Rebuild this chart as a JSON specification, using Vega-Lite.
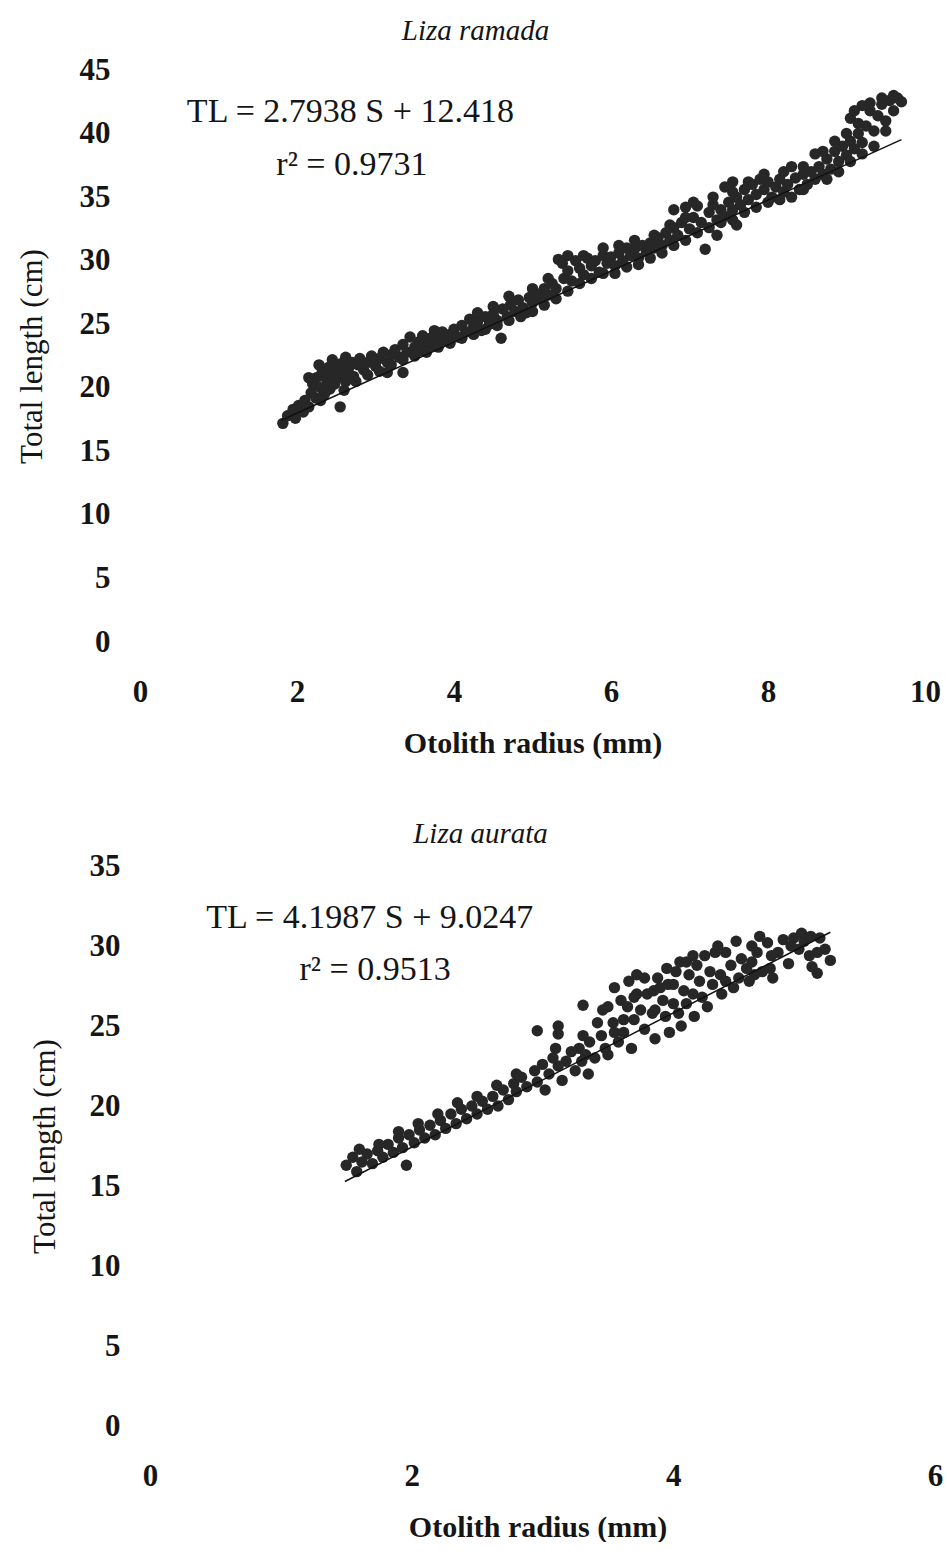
{
  "$schema": "https://vega.github.io/schema/vega-lite/v6.json",
  "background": "white",
  "padding": {"left": 16, "top": 17, "right": 0, "bottom": 0},
  "spacing": 62,
  "config": {
    "view": {"stroke": null},
    "axis": {
      "domain": false, "ticks": false, "grid": false, "labelFlush": false, "labelOverlap": false, "format": "d",
      "labelFont": "Liberation Serif", "labelFontSize": 31, "labelFontWeight": "bold", "labelColor": "#151515",
      "titleFont": "Liberation Serif", "titleFontSize": 30, "titleFontWeight": "bold", "titleColor": "#151515"
    },
    "axisY": {"titleFontWeight": "normal", "titleFontSize": 31},
    "title": {"font": "Liberation Serif", "fontSize": 29, "fontStyle": "italic", "fontWeight": "normal", "color": "#151515"}
  },
  "datasets": {
    "ramada": [
      {"S":1.82,"TL":17.2},{"S":1.88,"TL":17.8},{"S":1.95,"TL":18.3},{"S":1.98,"TL":17.6},{"S":2.02,"TL":18.6},
      {"S":2.08,"TL":18.1},{"S":2.1,"TL":19.0},{"S":2.15,"TL":18.5},{"S":2.18,"TL":19.6},{"S":2.2,"TL":20.3},
      {"S":2.24,"TL":19.2},{"S":2.25,"TL":20.8},{"S":2.3,"TL":20.0},{"S":2.32,"TL":21.2},{"S":2.35,"TL":19.5},
      {"S":2.38,"TL":20.6},{"S":2.4,"TL":21.6},{"S":2.42,"TL":19.9},{"S":2.45,"TL":21.0},{"S":2.48,"TL":20.3},
      {"S":2.5,"TL":21.5},{"S":2.52,"TL":20.8},{"S":2.55,"TL":18.5},{"S":2.56,"TL":21.9},{"S":2.6,"TL":21.2},
      {"S":2.62,"TL":20.5},{"S":2.66,"TL":21.6},{"S":2.7,"TL":22.0},{"S":2.72,"TL":20.9},{"S":2.78,"TL":21.8},
      {"S":2.8,"TL":22.3},{"S":2.85,"TL":21.4},{"S":2.9,"TL":22.0},{"S":2.95,"TL":22.5},{"S":3.0,"TL":21.7},
      {"S":3.05,"TL":22.3},{"S":3.1,"TL":22.8},{"S":3.15,"TL":22.0},{"S":3.2,"TL":22.6},{"S":3.25,"TL":23.0},
      {"S":3.3,"TL":22.4},{"S":3.35,"TL":23.4},{"S":3.4,"TL":22.8},{"S":3.44,"TL":24.0},{"S":3.5,"TL":23.2},
      {"S":3.55,"TL":23.6},{"S":3.6,"TL":22.9},{"S":3.65,"TL":23.4},{"S":3.7,"TL":23.9},{"S":3.75,"TL":23.3},
      {"S":3.8,"TL":24.0},{"S":3.85,"TL":24.4},{"S":3.9,"TL":23.7},{"S":3.95,"TL":24.2},{"S":4.0,"TL":24.6},
      {"S":4.05,"TL":24.0},{"S":4.1,"TL":24.9},{"S":4.15,"TL":24.4},{"S":4.2,"TL":25.4},{"S":4.25,"TL":24.8},
      {"S":4.3,"TL":25.2},{"S":4.35,"TL":24.5},{"S":4.4,"TL":25.6},{"S":4.45,"TL":25.0},{"S":4.5,"TL":25.8},
      {"S":4.55,"TL":25.3},{"S":4.6,"TL":23.9},{"S":4.62,"TL":26.2},{"S":4.68,"TL":25.6},{"S":4.72,"TL":26.5},
      {"S":4.78,"TL":26.0},{"S":4.82,"TL":26.9},{"S":4.88,"TL":26.3},{"S":4.92,"TL":25.9},{"S":4.96,"TL":27.1},
      {"S":5.0,"TL":26.7},{"S":5.05,"TL":27.4},{"S":5.1,"TL":27.0},{"S":5.15,"TL":27.8},{"S":5.2,"TL":27.3},
      {"S":5.25,"TL":28.2},{"S":5.3,"TL":27.8},{"S":5.33,"TL":30.1},{"S":5.38,"TL":29.8},{"S":5.4,"TL":28.6},
      {"S":5.45,"TL":29.2},{"S":5.5,"TL":28.4},{"S":5.55,"TL":30.0},{"S":5.6,"TL":29.4},{"S":5.65,"TL":28.9},
      {"S":5.7,"TL":30.2},{"S":5.75,"TL":29.6},{"S":5.8,"TL":30.0},{"S":5.85,"TL":29.1},{"S":5.9,"TL":30.4},
      {"S":5.95,"TL":29.8},{"S":6.0,"TL":30.3},{"S":6.05,"TL":29.6},{"S":6.1,"TL":30.6},{"S":6.15,"TL":30.0},
      {"S":6.2,"TL":31.0},{"S":6.25,"TL":30.4},{"S":6.3,"TL":30.9},{"S":6.35,"TL":30.2},{"S":6.4,"TL":31.2},
      {"S":6.45,"TL":30.7},{"S":6.5,"TL":31.4},{"S":6.55,"TL":31.0},{"S":6.6,"TL":31.8},{"S":6.65,"TL":31.2},
      {"S":6.7,"TL":32.2},{"S":6.75,"TL":31.6},{"S":6.8,"TL":32.6},{"S":6.85,"TL":32.0},{"S":6.9,"TL":33.0},
      {"S":6.95,"TL":34.2},{"S":7.0,"TL":32.5},{"S":7.05,"TL":33.4},{"S":7.1,"TL":34.3},{"S":7.15,"TL":33.0},
      {"S":7.2,"TL":30.9},{"S":7.25,"TL":33.8},{"S":7.3,"TL":34.4},{"S":7.35,"TL":33.2},{"S":7.4,"TL":34.0},
      {"S":7.45,"TL":33.5},{"S":7.5,"TL":34.6},{"S":7.55,"TL":34.0},{"S":7.6,"TL":35.0},{"S":7.65,"TL":34.4},
      {"S":7.7,"TL":35.6},{"S":7.75,"TL":34.8},{"S":7.8,"TL":36.0},{"S":7.85,"TL":35.2},{"S":7.9,"TL":36.4},
      {"S":7.95,"TL":35.6},{"S":8.0,"TL":36.2},{"S":8.05,"TL":35.0},{"S":8.1,"TL":35.8},{"S":8.15,"TL":36.4},
      {"S":8.2,"TL":35.4},{"S":8.25,"TL":36.0},{"S":8.3,"TL":35.0},{"S":8.35,"TL":36.5},{"S":8.4,"TL":35.6},
      {"S":8.45,"TL":36.8},{"S":8.5,"TL":36.0},{"S":8.55,"TL":37.0},{"S":8.6,"TL":36.4},{"S":8.65,"TL":37.4},
      {"S":8.7,"TL":36.8},{"S":8.75,"TL":38.0},{"S":8.8,"TL":37.2},{"S":8.85,"TL":38.6},{"S":8.9,"TL":37.8},
      {"S":8.95,"TL":39.0},{"S":9.0,"TL":38.3},{"S":9.05,"TL":39.4},{"S":9.1,"TL":38.8},{"S":9.15,"TL":40.0},
      {"S":9.2,"TL":39.3},{"S":9.25,"TL":40.6},{"S":9.3,"TL":41.8},{"S":9.35,"TL":40.2},{"S":9.4,"TL":41.4},
      {"S":9.45,"TL":42.3},{"S":9.5,"TL":41.0},{"S":9.55,"TL":42.6},{"S":9.6,"TL":41.8},{"S":9.65,"TL":42.8},
      {"S":9.7,"TL":42.5},
      {"S":2.3,"TL":19.0},{"S":2.6,"TL":19.8},{"S":2.75,"TL":20.5},{"S":2.9,"TL":21.0},{"S":3.05,"TL":21.3},
      {"S":3.2,"TL":21.8},{"S":3.35,"TL":22.2},{"S":3.5,"TL":22.5},{"S":3.65,"TL":22.8},{"S":3.8,"TL":23.2},
      {"S":3.95,"TL":23.5},{"S":4.1,"TL":23.9},{"S":4.25,"TL":24.2},{"S":4.4,"TL":24.6},{"S":4.55,"TL":24.9},
      {"S":4.7,"TL":25.3},{"S":4.85,"TL":25.6},{"S":5.0,"TL":26.0},{"S":5.15,"TL":26.5},{"S":5.3,"TL":27.0},
      {"S":5.45,"TL":27.6},{"S":5.6,"TL":28.2},{"S":5.75,"TL":28.6},{"S":5.9,"TL":29.0},{"S":6.05,"TL":29.0},
      {"S":6.2,"TL":29.5},{"S":6.35,"TL":29.7},{"S":6.5,"TL":30.2},{"S":6.65,"TL":30.6},{"S":6.8,"TL":31.2},
      {"S":6.95,"TL":31.6},{"S":7.1,"TL":32.2},{"S":7.25,"TL":32.6},{"S":7.4,"TL":33.0},{"S":7.55,"TL":33.2},
      {"S":7.7,"TL":33.8},{"S":7.85,"TL":34.2},{"S":8.0,"TL":34.6},{"S":8.15,"TL":34.8},{"S":8.45,"TL":35.6},
      {"S":8.75,"TL":36.4},{"S":8.9,"TL":37.0},{"S":9.05,"TL":37.8},{"S":9.2,"TL":38.4},{"S":9.35,"TL":39.0},
      {"S":9.5,"TL":40.2},
      {"S":2.15,"TL":20.8},{"S":2.28,"TL":21.8},{"S":2.45,"TL":22.2},{"S":2.62,"TL":22.4},{"S":3.6,"TL":24.1},
      {"S":3.75,"TL":24.5},{"S":4.3,"TL":25.9},{"S":4.5,"TL":26.4},{"S":4.7,"TL":27.2},{"S":5.0,"TL":27.8},
      {"S":5.2,"TL":28.6},{"S":5.45,"TL":30.4},{"S":5.65,"TL":30.4},{"S":5.9,"TL":31.0},{"S":6.1,"TL":31.2},
      {"S":6.3,"TL":31.6},{"S":6.55,"TL":32.0},{"S":6.75,"TL":32.8},{"S":6.95,"TL":33.4},{"S":7.05,"TL":34.6},
      {"S":7.3,"TL":35.0},{"S":7.55,"TL":35.4},{"S":7.75,"TL":36.2},{"S":7.95,"TL":36.8},{"S":8.2,"TL":37.0},
      {"S":8.45,"TL":37.4},{"S":8.7,"TL":38.6},{"S":8.85,"TL":39.4},{"S":9.0,"TL":40.0},{"S":9.15,"TL":40.8},
      {"S":9.3,"TL":42.4},{"S":9.45,"TL":42.8},{"S":9.6,"TL":43.0},
      {"S":3.15,"TL":21.2},{"S":3.35,"TL":21.2},{"S":7.35,"TL":32.0},{"S":7.6,"TL":32.8},{"S":7.55,"TL":36.2},
      {"S":7.45,"TL":35.8},{"S":9.05,"TL":41.2},{"S":9.1,"TL":41.8},{"S":9.2,"TL":42.2},{"S":8.6,"TL":38.4},
      {"S":8.3,"TL":37.4},{"S":6.8,"TL":34.0}
    ],
    "ramada_fit": [{"S":1.8,"TL":17.447},{"S":9.7,"TL":39.518}],
    "ramada_eq": [
      {"S":2.68,"TL":41.7,"label":"TL = 2.7938 S + 12.418"},
      {"S":2.7,"TL":37.5,"label":"r² = 0.9731"}
    ],
    "aurata": [
      {"S":1.5,"TL":16.3},{"S":1.55,"TL":16.8},{"S":1.58,"TL":15.9},{"S":1.62,"TL":16.5},{"S":1.66,"TL":17.0},
      {"S":1.7,"TL":16.4},{"S":1.74,"TL":17.2},{"S":1.78,"TL":16.8},{"S":1.82,"TL":17.6},{"S":1.86,"TL":17.1},
      {"S":1.9,"TL":18.0},{"S":1.93,"TL":17.4},{"S":1.96,"TL":16.3},{"S":1.98,"TL":18.2},{"S":2.02,"TL":17.7},
      {"S":2.06,"TL":18.5},{"S":2.1,"TL":18.0},{"S":2.14,"TL":18.8},{"S":2.18,"TL":18.2},{"S":2.22,"TL":19.1},
      {"S":2.26,"TL":18.6},{"S":2.3,"TL":19.5},{"S":2.34,"TL":18.9},{"S":2.38,"TL":19.8},{"S":2.42,"TL":19.2},
      {"S":2.46,"TL":20.0},{"S":2.5,"TL":19.5},{"S":2.54,"TL":20.3},{"S":2.58,"TL":19.8},{"S":2.62,"TL":20.6},
      {"S":2.66,"TL":20.0},{"S":2.7,"TL":21.0},{"S":2.74,"TL":20.4},{"S":2.78,"TL":21.4},
      {"S":2.8,"TL":20.9},{"S":2.84,"TL":21.8},{"S":2.88,"TL":21.2},{"S":2.96,"TL":24.7},{"S":3.12,"TL":25.0},
      {"S":3.12,"TL":24.5},{"S":3.31,"TL":26.3},{"S":3.31,"TL":24.4},
      {"S":2.94,"TL":22.2},{"S":2.96,"TL":21.5},{"S":3.0,"TL":22.6},{"S":3.02,"TL":21.0},{"S":3.05,"TL":22.0},
      {"S":3.08,"TL":23.0},{"S":3.12,"TL":22.5},{"S":3.15,"TL":21.6},{"S":3.18,"TL":22.8},{"S":3.22,"TL":23.4},
      {"S":3.25,"TL":22.2},{"S":3.28,"TL":23.6},{"S":3.3,"TL":22.8},{"S":3.33,"TL":23.2},{"S":3.36,"TL":24.0},
      {"S":3.4,"TL":23.0},{"S":3.42,"TL":25.2},{"S":3.45,"TL":24.4},{"S":3.48,"TL":23.6},{"S":3.5,"TL":26.2},
      {"S":3.54,"TL":25.2},{"S":3.58,"TL":24.0},{"S":3.6,"TL":26.6},{"S":3.62,"TL":24.6},{"S":3.66,"TL":27.8},
      {"S":3.68,"TL":23.6},{"S":3.7,"TL":25.4},{"S":3.72,"TL":27.0},{"S":3.75,"TL":26.0},{"S":3.8,"TL":27.0},
      {"S":3.84,"TL":25.8},{"S":3.86,"TL":24.2},{"S":3.88,"TL":28.0},{"S":3.9,"TL":27.4},{"S":3.92,"TL":26.6},
      {"S":3.96,"TL":27.6},{"S":3.97,"TL":24.6},{"S":4.0,"TL":26.4},{"S":4.02,"TL":28.4},{"S":4.05,"TL":29.0},
      {"S":4.06,"TL":25.0},{"S":4.08,"TL":27.2},{"S":4.12,"TL":28.2},{"S":4.15,"TL":27.0},{"S":4.16,"TL":25.6},
      {"S":4.18,"TL":28.8},{"S":4.2,"TL":27.8},{"S":4.24,"TL":29.4},{"S":4.26,"TL":26.2},{"S":4.28,"TL":28.4},
      {"S":4.32,"TL":29.6},{"S":4.36,"TL":28.2},{"S":4.37,"TL":27.0},{"S":4.4,"TL":29.6},{"S":4.44,"TL":28.8},
      {"S":4.46,"TL":27.4},{"S":4.48,"TL":30.3},{"S":4.52,"TL":29.2},{"S":4.56,"TL":28.6},{"S":4.6,"TL":30.0},
      {"S":4.64,"TL":29.6},{"S":4.68,"TL":28.4},{"S":4.72,"TL":30.2},{"S":4.76,"TL":28.0},{"S":4.8,"TL":29.6},
      {"S":4.84,"TL":30.4},{"S":4.88,"TL":28.9},{"S":4.92,"TL":30.5},{"S":4.96,"TL":29.8},{"S":5.0,"TL":30.3},
      {"S":5.04,"TL":29.4},{"S":5.1,"TL":28.3},{"S":5.12,"TL":30.5},{"S":5.16,"TL":29.8},{"S":5.2,"TL":29.1},
      {"S":5.06,"TL":28.7},
      {"S":1.6,"TL":17.3},{"S":1.75,"TL":17.6},{"S":1.9,"TL":18.4},{"S":2.05,"TL":18.9},{"S":2.2,"TL":19.5},
      {"S":2.35,"TL":20.2},{"S":2.5,"TL":20.6},{"S":2.65,"TL":21.3},{"S":2.8,"TL":22.0},{"S":3.1,"TL":23.6},
      {"S":3.35,"TL":22.0},{"S":3.5,"TL":23.2},{"S":3.55,"TL":24.6},{"S":3.65,"TL":26.2},
      {"S":3.78,"TL":28.0},{"S":3.95,"TL":28.6},{"S":4.1,"TL":29.0},{"S":3.7,"TL":26.8},{"S":3.85,"TL":27.2},
      {"S":4.0,"TL":27.6},{"S":4.3,"TL":27.6},{"S":4.5,"TL":28.0},{"S":4.6,"TL":29.0},{"S":4.75,"TL":29.4},
      {"S":4.9,"TL":30.0},{"S":5.05,"TL":30.6},{"S":5.1,"TL":29.6},{"S":4.15,"TL":29.4},{"S":4.4,"TL":27.8},
      {"S":3.78,"TL":24.8},{"S":3.94,"TL":25.6},{"S":4.1,"TL":26.4},{"S":4.22,"TL":26.8},{"S":4.34,"TL":30.0},
      {"S":4.58,"TL":27.8},{"S":4.66,"TL":30.6},{"S":4.74,"TL":28.6},{"S":4.98,"TL":30.8},{"S":4.62,"TL":28.2},
      {"S":3.46,"TL":26.0},{"S":3.62,"TL":25.4},{"S":3.86,"TL":26.0},{"S":4.04,"TL":25.8},{"S":3.72,"TL":28.2},
      {"S":3.55,"TL":27.4}
    ],
    "aurata_fit": [{"S":1.49,"TL":15.281},{"S":5.2,"TL":30.858}],
    "aurata_eq": [
      {"S":1.68,"TL":31.75,"label":"TL = 4.1987 S + 9.0247"},
      {"S":1.72,"TL":28.5,"label":"r² = 0.9513"}
    ]
  },
  "vconcat": [
    {
      "width": 785,
      "height": 572,
      "title": {"text": "Liza ramada", "anchor": "middle", "dx": -57, "offset": 8},
      "layer": [
        {
          "data": {"name": "ramada"},
          "mark": {"type": "circle", "size": 130, "color": "#272727", "opacity": 1},
          "encoding": {
            "x": {"field": "S", "type": "quantitative", "scale": {"domain": [0, 10], "nice": false, "zero": false},
                  "axis": {"values": [0, 2, 4, 6, 8, 10], "title": "Otolith radius (mm)", "labelPadding": 35, "titlePadding": 21}},
            "y": {"field": "TL", "type": "quantitative", "scale": {"domain": [0, 45], "nice": false, "zero": false},
                  "axis": {"values": [0, 5, 10, 15, 20, 25, 30, 35, 40, 45], "title": "Total length (cm)", "labelPadding": 30, "titlePadding": 31}}
          }
        },
        {
          "data": {"name": "ramada_fit"},
          "mark": {"type": "line", "color": "#111111", "strokeWidth": 1.5},
          "encoding": {
            "x": {"field": "S", "type": "quantitative"},
            "y": {"field": "TL", "type": "quantitative"}
          }
        },
        {
          "data": {"name": "ramada_eq"},
          "mark": {"type": "text", "font": "Liberation Serif", "fontSize": 34, "color": "#151515", "align": "center", "baseline": "middle"},
          "encoding": {
            "x": {"field": "S", "type": "quantitative"},
            "y": {"field": "TL", "type": "quantitative"},
            "text": {"field": "label"}
          }
        }
      ]
    },
    {
      "width": 795,
      "height": 560,
      "title": {"text": "Liza aurata", "anchor": "middle", "dx": -57, "offset": 1},
      "layer": [
        {
          "data": {"name": "aurata"},
          "mark": {"type": "circle", "size": 130, "color": "#272727", "opacity": 1},
          "encoding": {
            "x": {"field": "S", "type": "quantitative", "scale": {"domain": [-0.0764, 6], "nice": false, "zero": false},
                  "axis": {"values": [0, 2, 4, 6], "title": "Otolith radius (mm)", "labelPadding": 35, "titlePadding": 21}},
            "y": {"field": "TL", "type": "quantitative", "scale": {"domain": [0, 35], "nice": false, "zero": false},
                  "axis": {"values": [0, 5, 10, 15, 20, 25, 30, 35], "title": "Total length (cm)", "labelPadding": 20, "titlePadding": 28}}
          }
        },
        {
          "data": {"name": "aurata_fit"},
          "mark": {"type": "line", "color": "#111111", "strokeWidth": 1.5},
          "encoding": {
            "x": {"field": "S", "type": "quantitative"},
            "y": {"field": "TL", "type": "quantitative"}
          }
        },
        {
          "data": {"name": "aurata_eq"},
          "mark": {"type": "text", "font": "Liberation Serif", "fontSize": 34, "color": "#151515", "align": "center", "baseline": "middle"},
          "encoding": {
            "x": {"field": "S", "type": "quantitative"},
            "y": {"field": "TL", "type": "quantitative"},
            "text": {"field": "label"}
          }
        }
      ]
    }
  ]
}
